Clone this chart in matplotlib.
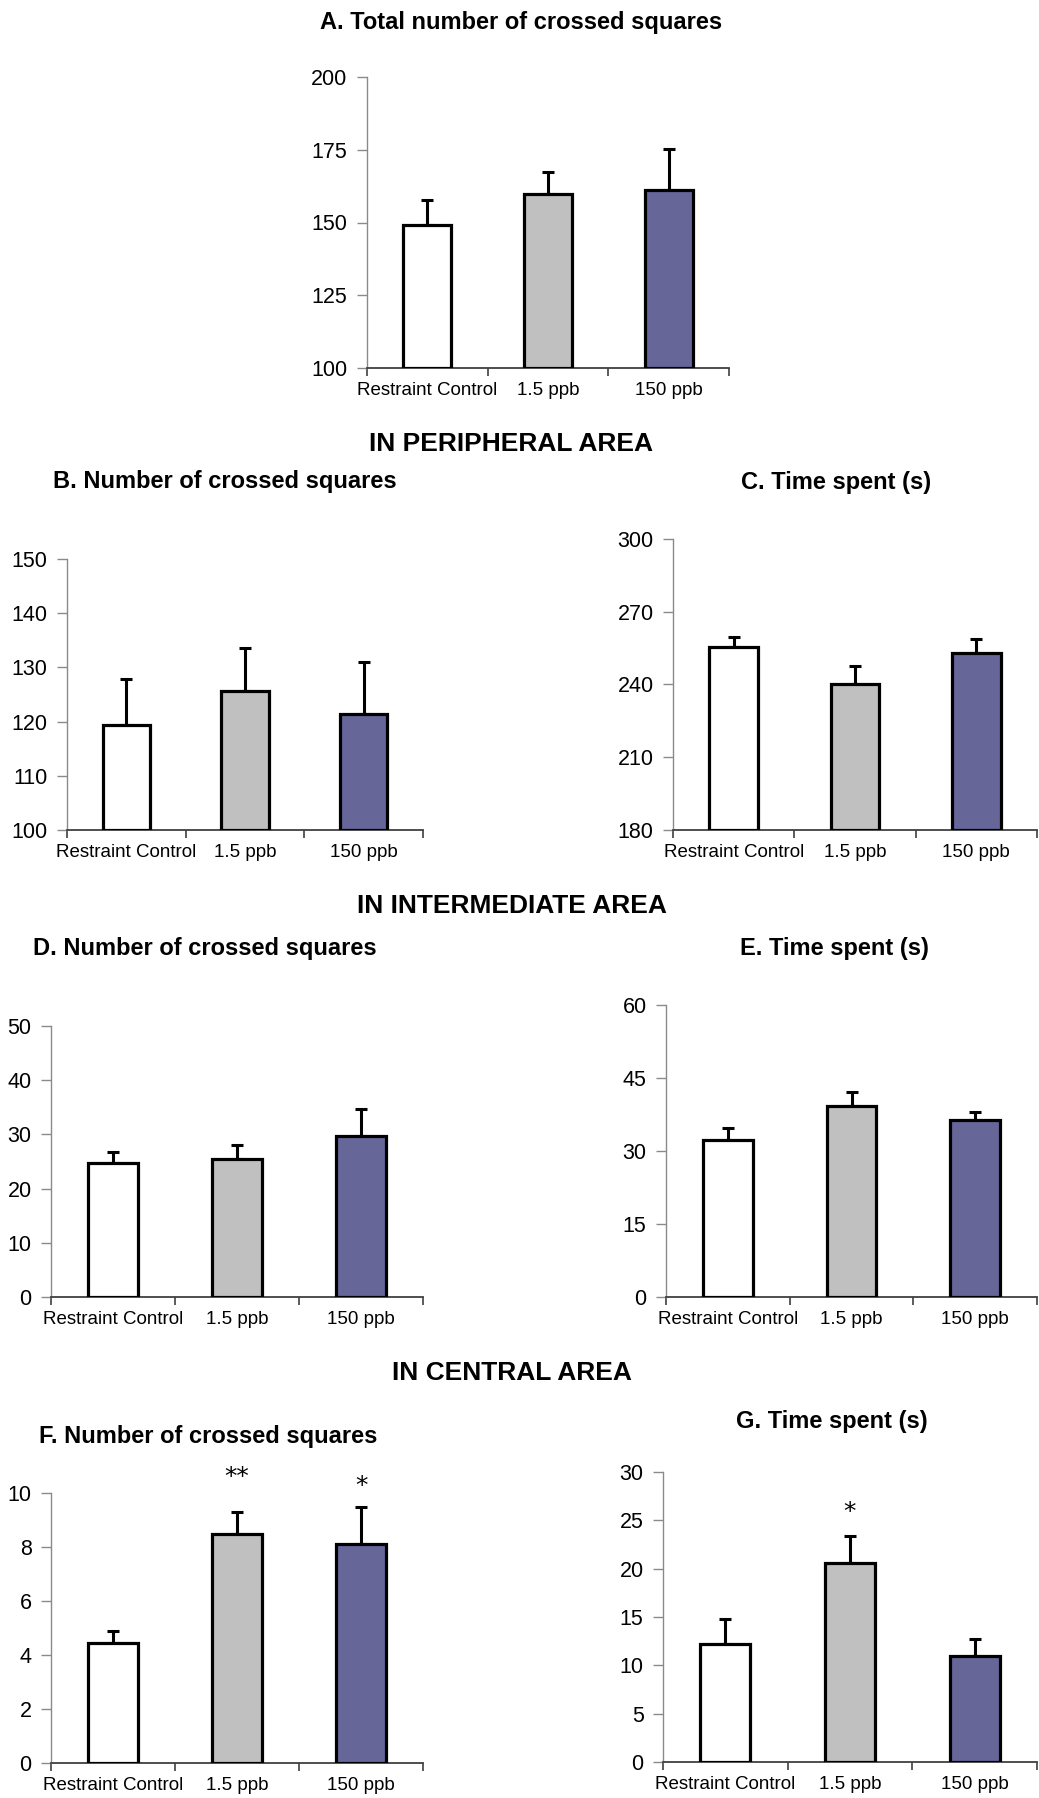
import numpy as np
import matplotlib
matplotlib.use("Agg")
import matplotlib.pyplot as plt

plt.rcParams['font.family'] = ['Liberation Sans', 'DejaVu Sans']

# ---------------- data ----------------
groups = ["Restraint Control", "1.5 ppb", "150 ppb"]
bar_colors = ["#FFFFFF", "#C0C0C0", "#666699"]

A_mean = [149.3, 159.9, 161.2]
A_sem = [8.3, 7.6, 13.9]
B_mean = [119.3, 125.7, 121.4]
B_sem = [8.5, 7.9, 9.6]
C_mean = [255.4, 240.0, 252.8]
C_sem = [4.1, 7.8, 5.8]
D_mean = [24.7, 25.4, 29.7]
D_sem = [2.0, 2.6, 5.0]
E_mean = [32.3, 39.3, 36.3]
E_sem = [2.4, 2.8, 1.7]
F_mean = [4.44, 8.49, 8.10]
F_sem = [0.44, 0.81, 1.39]
G_mean = [12.2, 20.6, 11.0]
G_sem = [2.6, 2.8, 1.7]

F_stars = ["", "**", "*"]
F_star_y = [0, 10.6, 10.26]
G_stars = ["", "*", ""]
G_star_y = [0, 25.9, 0]

titles = ["A. Total number of crossed squares",
          "B. Number of crossed squares", "C. Time spent (s)",
          "D. Number of crossed squares", "E. Time spent (s)",
          "F. Number of crossed squares", "G. Time spent (s)"]
headings = ["IN PERIPHERAL AREA", "IN INTERMEDIATE AREA", "IN CENTRAL AREA"]

# ---------------- figure ----------------
W, H = 1039, 1798
fig = plt.figure(figsize=(W / 100, H / 100), dpi=100)

def px_axes(x0, y0, x1, y1):
    return fig.add_axes([x0 / W, 1 - y1 / H, (x1 - x0) / W, (y1 - y0) / H])

def panel(rect, means, sems, ylim, ystep, stars=None, star_y=None):
    ax = px_axes(*rect)
    x = np.arange(len(groups))
    base = ylim[0]
    heights = np.array(means) - base
    ax.errorbar(x, means, yerr=[np.zeros(len(sems)), sems], fmt='none',
                ecolor='black', elinewidth=2.2, capsize=4, capthick=2.2, zorder=2)
    ax.bar(x, heights, bottom=base, width=0.4, color=bar_colors,
           edgecolor='black', linewidth=2.3, zorder=3)
    ax.set_xlim(-0.5, 2.5)
    ax.set_ylim(*ylim)
    ax.set_yticks(np.arange(ylim[0], ylim[1] + ystep * 0.5, ystep))
    ax.spines['top'].set_visible(False)
    ax.spines['right'].set_visible(False)
    ax.spines['left'].set_color('#8a8a8a')
    ax.spines['left'].set_linewidth(1.0)
    ax.spines['bottom'].set_color('#404040')
    ax.spines['bottom'].set_linewidth(1.3)
    ax.set_xticks(x)
    ax.set_xticklabels(groups, fontsize=13.5)
    ax.tick_params(axis='x', which='major', length=0, pad=10)
    ax.set_xticks([-0.5, 0.5, 1.5, 2.5], minor=True)
    ax.tick_params(axis='x', which='minor', length=6, width=1.2,
                   color='#404040', direction='out')
    ax.tick_params(axis='y', length=7, width=1.0, color='#8a8a8a',
                   pad=7, labelsize=15.5, direction='out')
    if stars:
        for xi, s, sy in zip(x, stars, star_y):
            if s:
                ax.text(xi, sy, s, ha='center', va='center', fontsize=18,
                        family='DejaVu Sans', clip_on=False)
    return ax

panel((367, 77, 729, 368), A_mean, A_sem, (100, 200), 25)
panel((67, 559, 423, 830), B_mean, B_sem, (100, 150), 10)
panel((673, 539, 1037, 830), C_mean, C_sem, (180, 300), 30)
panel((51, 1026, 423, 1297), D_mean, D_sem, (0, 50), 10)
panel((666, 1005, 1037, 1297), E_mean, E_sem, (0, 60), 15)
panel((51, 1493, 423, 1763), F_mean, F_sem, (0, 10), 2, F_stars, F_star_y)
panel((663, 1472, 1037, 1762), G_mean, G_sem, (0, 30), 5, G_stars, G_star_y)

title_pos = [(521, 28.5), (225, 488), (836, 489), (205, 955), (834, 955),
             (208.5, 1443), (832, 1428)]
for t, (cx, by) in zip(titles, title_pos):
    fig.text(cx / W, 1 - by / H, t, ha='center', va='baseline',
             fontsize=17, fontweight='bold')

heading_pos = [(511, 451), (512, 913), (512, 1380)]
for t, (cx, by) in zip(headings, heading_pos):
    fig.text(cx / W, 1 - by / H, t, ha='center', va='baseline',
             fontsize=19, fontweight='bold')

fig.savefig("out.png", dpi=100, facecolor='white')
